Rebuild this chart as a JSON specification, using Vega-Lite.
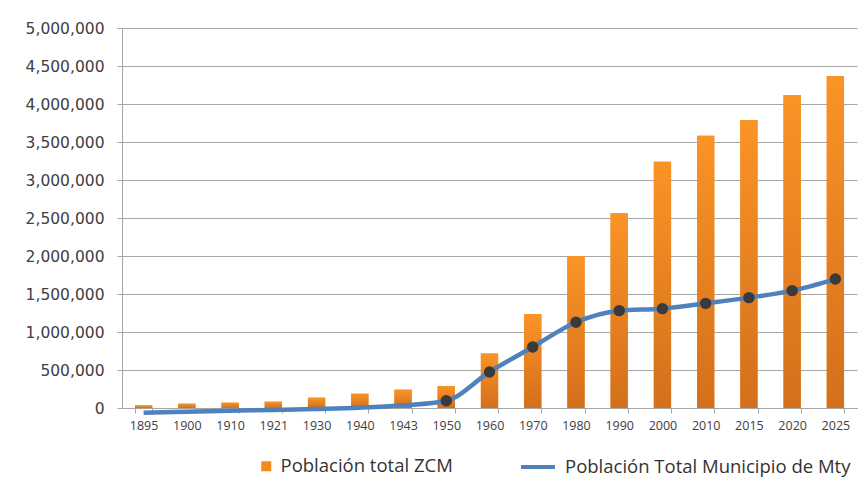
{
  "$schema": "https://vega.github.io/schema/vega-lite/v6.json",
  "autosize": {"type": "none"},
  "padding": {"left": 122, "top": 28, "right": 3, "bottom": 78},
  "width": 735,
  "height": 380,
  "background": "white",
  "config": {
    "font": "Open Sans",
    "view": {"stroke": null},
    "axis": {"labelFont": "Open Sans", "labelColor": "#404040", "domainColor": "#A6A6A6", "tickColor": "#A6A6A6", "gridColor": "#A6A6A6"},
    "axisY": {"title": null, "format": ",d", "values": [0, 500000, 1000000, 1500000, 2000000, 2500000, 3000000, 3500000, 4000000, 4500000, 5000000], "labelFont": "DejaVu Sans", "labelFontSize": 15.5, "labelPadding": 13, "labelOverlap": false, "tickSize": 5, "grid": true, "domain": true},
    "legend": {"labelFont": "Open Sans", "labelFontSize": 18.5, "labelColor": "#333333", "padding": 0}
  },
  "data": {
    "values": [
      {"year": "1895", "yr": 1895, "zcm": 35000, "mty": -62000},
      {"year": "1900", "yr": 1900, "zcm": 57000, "mty": -48000},
      {"year": "1910", "yr": 1910, "zcm": 70000, "mty": -35000},
      {"year": "1921", "yr": 1921, "zcm": 83000, "mty": -26000},
      {"year": "1930", "yr": 1930, "zcm": 136000, "mty": -13000},
      {"year": "1940", "yr": 1940, "zcm": 188000, "mty": 4000},
      {"year": "1943", "yr": 1943, "zcm": 241000, "mty": 35000},
      {"year": "1950", "yr": 1950, "zcm": 289000, "mty": 96000},
      {"year": "1960", "yr": 1960, "zcm": 716000, "mty": 474000},
      {"year": "1970", "yr": 1970, "zcm": 1237000, "mty": 803000},
      {"year": "1980", "yr": 1980, "zcm": 2000000, "mty": 1128000},
      {"year": "1990", "yr": 1990, "zcm": 2561000, "mty": 1281000},
      {"year": "2000", "yr": 2000, "zcm": 3241000, "mty": 1307000},
      {"year": "2010", "yr": 2010, "zcm": 3583000, "mty": 1377000},
      {"year": "2015", "yr": 2015, "zcm": 3789000, "mty": 1452000},
      {"year": "2020", "yr": 2020, "zcm": 4118000, "mty": 1544000},
      {"year": "2025", "yr": 2025, "zcm": 4368000, "mty": 1697000}
    ]
  },
  "encoding": {
    "x": {
      "field": "year", "type": "ordinal", "sort": null,
      "scale": {"paddingInner": 0.6, "paddingOuter": 0.3},
      "axis": {"title": null, "labelAngle": 0, "labelFontSize": 12.5, "labelPadding": 6, "tickBand": "extent", "tickSize": 5, "grid": false}
    }
  },
  "layer": [
    {
      "mark": {"type": "bar"},
      "encoding": {
        "y": {
          "field": "zcm", "type": "quantitative", "title": null,
          "scale": {"domain": [0, 5000000], "nice": false, "zero": true}
        },
        "fill": {
          "datum": "Población total ZCM", "type": "nominal",
          "scale": {"domain": ["Población total ZCM"], "range": ["#F28A1E"]},
          "legend": {"title": null, "orient": "none", "legendX": 135, "legendY": 429, "symbolType": "square", "symbolSize": 100, "labelLimit": 400, "labelOffset": 5}
        }
      }
    },
    {
      "mark": {
        "type": "bar",
        "color": {"gradient": "linear", "x1": 0, "y1": 0, "x2": 0, "y2": 1, "stops": [{"offset": 0, "color": "#FA9426"}, {"offset": 1, "color": "#D46F1C"}]}
      },
      "encoding": {"y": {"field": "zcm", "type": "quantitative", "title": null}}
    },
    {
      "mark": {"type": "line", "interpolate": "monotone", "strokeWidth": 4.5, "color": "#4F81BD"},
      "encoding": {
        "y": {"field": "mty", "type": "quantitative", "title": null},
        "stroke": {
          "datum": "Población Total Municipio de Mty", "type": "nominal",
          "scale": {"domain": ["Población Total Municipio de Mty"], "range": ["#4F81BD"]},
          "legend": {"title": null, "orient": "none", "legendX": 397, "legendY": 420, "symbolType": "stroke", "symbolStrokeWidth": 4, "symbolSize": 1150, "labelLimit": 400, "labelOffset": 8}
        }
      }
    },
    {
      "transform": [{"filter": "datum.yr >= 1950"}],
      "mark": {"type": "circle", "size": 130, "color": "#3A3A3A", "opacity": 1},
      "encoding": {"y": {"field": "mty", "type": "quantitative", "title": null}}
    }
  ],
  "resolve": {"legend": {"fill": "independent", "stroke": "independent"}}
}
